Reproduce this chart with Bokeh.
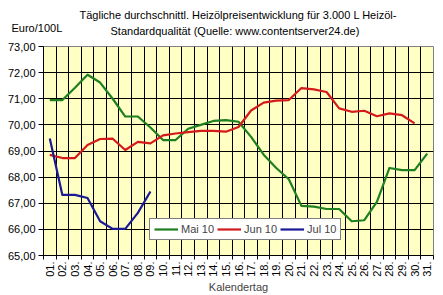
from bokeh.plotting import figure
from bokeh.models import FixedTicker, Title, Legend, LegendItem, Range1d
from bokeh.embed import file_html
from bokeh.resources import INLINE
import math

days = list(range(1, 32))
day_labels = ["%02d." % d for d in days]

mai10 = [70.95, 70.95, 71.42, 71.92, 71.62, 71.00, 70.32, 70.32, 69.90, 69.42,
         69.42, 69.85, 70.00, 70.15, 70.18, 70.12, 69.54, 68.86, 68.35, 67.92,
         66.90, 66.87, 66.78, 66.78, 66.31, 66.35, 67.05, 68.35, 68.27, 68.27,
         68.90]
jun10 = [68.85, 68.73, 68.73, 69.23, 69.46, 69.47, 69.04, 69.35, 69.29, 69.60,
         69.67, 69.72, 69.77, 69.77, 69.74, 69.92, 70.55, 70.85, 70.93, 70.95,
         71.41, 71.36, 71.26, 70.63, 70.50, 70.54, 70.33, 70.44, 70.37, 70.06]
jul10 = [69.48, 67.32, 67.32, 67.20, 66.31, 66.02, 66.02, 66.63, 67.45]

y_ticks = [65, 66, 67, 68, 69, 70, 71, 72, 73]
y_labels = ["65,00", "66,00", "67,00", "68,00", "69,00", "70,00", "71,00", "72,00", "73,00"]

series_names = ["Mai 10", "Jun 10", "Jul 10"]
colors = ["#1E7F1E", "#D41A1A", "#1A1A96"]

title_line1 = "Tägliche durchschnittl. Heizölpreisentwicklung für 3.000 L Heizöl-"
title_line2 = "Standardqualität (Quelle: www.contentserver24.de)"
y_unit = "Euro/100L"
x_title = "Kalendertag"

FONT = "Liberation Sans"

p = figure(width=443, height=295, output_backend="svg", toolbar_location=None,
           x_range=Range1d(0.5, 31.5), y_range=Range1d(65, 73),
           min_border_left=43, min_border_right=10, min_border_top=46,
           min_border_bottom=39)
p.background_fill_color = "#FFFFC4"
p.border_fill_color = "white"
p.outline_line_color = "#808080"

boundaries = [d - 0.5 for d in days] + [31.5]

p.xaxis.ticker = FixedTicker(ticks=days, minor_ticks=boundaries)
p.xaxis.major_label_overrides = {d: l for d, l in zip(days, day_labels)}
p.xaxis.major_label_orientation = math.pi / 2
p.xaxis.major_tick_out = 0
p.xaxis.major_tick_in = 0
p.xaxis.minor_tick_out = 4
p.xaxis.minor_tick_in = 0
p.xaxis.minor_tick_line_color = "black"
p.xaxis.major_label_standoff = 2
p.xaxis.axis_line_color = "black"
p.xaxis.axis_label = x_title
p.xaxis.axis_label_standoff = 1
p.xaxis.axis_label_text_font = FONT
p.xaxis.axis_label_text_font_size = "11px"
p.xaxis.axis_label_text_font_style = "normal"

p.yaxis.ticker = FixedTicker(ticks=y_ticks)
p.yaxis.major_label_overrides = {t: l for t, l in zip(y_ticks, y_labels)}
p.yaxis.major_tick_out = 5
p.yaxis.major_tick_in = 0
p.yaxis.minor_tick_out = 0
p.yaxis.minor_tick_in = 0
p.yaxis.major_label_standoff = 3
p.yaxis.axis_line_color = "black"

for ax in (p.xaxis, p.yaxis):
    ax.major_label_text_font = FONT
    ax.major_label_text_font_size = "11px"
    ax.major_label_text_color = "black"
    ax.major_tick_line_color = "black"

p.xgrid.ticker = FixedTicker(ticks=boundaries)
p.ygrid.ticker = FixedTicker(ticks=y_ticks)
p.xgrid.grid_line_color = "black"
p.ygrid.grid_line_color = "black"
p.xgrid.grid_line_alpha = 1
p.ygrid.grid_line_alpha = 1

items = []
for name, vals, col in zip(series_names, [mai10, jun10, jul10], colors):
    r = p.line(days[:len(vals)], vals, line_color=col, line_width=2.2,
               line_join="round")
    items.append(LegendItem(label=name, renderers=[r]))

legend = Legend(items=items, orientation="horizontal", location=(106, 15))
legend.label_text_font = FONT
legend.label_text_font_size = "11px"
legend.glyph_width = 24
legend.glyph_height = 12
legend.label_standoff = 3
legend.spacing = 3
legend.padding = 4
legend.margin = 0
legend.border_line_color = "black"
legend.border_line_width = 1
legend.background_fill_color = "white"
legend.background_fill_alpha = 1
p.add_layout(legend, "center")

def mk_title(text, offset, standoff):
    return Title(text=text, align="left", offset=offset, standoff=standoff,
                 text_font=FONT, text_font_size="11px", text_font_style="normal",
                 text_color="black")

# stacked outward from the frame: second title line, first title line, unit
p.add_layout(mk_title(title_line2, 67, 19), "above")
p.add_layout(mk_title(title_line1, 36, -14), "above")
p.add_layout(mk_title(y_unit, -32, -41), "above")

open("out.html", "w").write(file_html(p, INLINE))
